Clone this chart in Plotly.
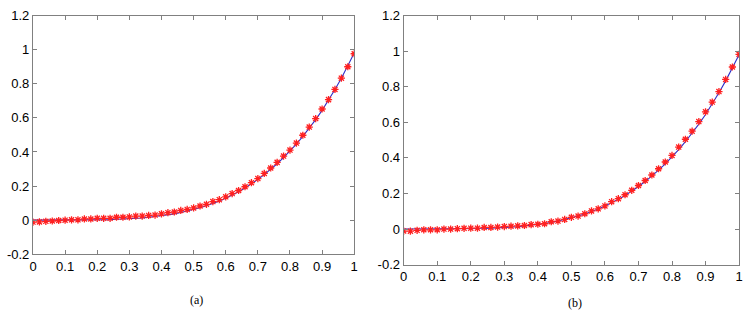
import plotly.graph_objects as go

x_vals = [round(i * 0.02, 2) for i in range(51)]

line_vals = [0.000, 0.000, 0.000, 0.000, 0.000, 0.000, 0.000, 0.000, 0.001, 0.001,
             0.002, 0.002, 0.003, 0.005, 0.006, 0.008, 0.010, 0.013, 0.017, 0.021,
             0.026, 0.031, 0.037, 0.045, 0.053, 0.062, 0.073, 0.085, 0.098, 0.113,
             0.129, 0.147, 0.167, 0.189, 0.213, 0.239, 0.267, 0.298, 0.331, 0.367,
             0.405, 0.446, 0.491, 0.538, 0.590, 0.644, 0.703, 0.766, 0.833, 0.904,
             0.980]

markers_a = [-0.011, -0.010, -0.007, -0.005, -0.002, 0.000, 0.002, 0.002, 0.007, 0.007,
             0.011, 0.011, 0.011, 0.017, 0.017, 0.019, 0.024, 0.024, 0.028, 0.030,
             0.037, 0.044, 0.048, 0.057, 0.063, 0.072, 0.083, 0.093, 0.109, 0.120,
             0.137, 0.156, 0.174, 0.196, 0.220, 0.244, 0.274, 0.306, 0.339, 0.376,
             0.411, 0.452, 0.498, 0.546, 0.596, 0.652, 0.707, 0.767, 0.833, 0.900,
             0.976]

markers_b = [-0.011, -0.012, -0.007, -0.004, -0.004, -0.004, 0.000, 0.000, 0.002, 0.004,
             0.005, 0.005, 0.009, 0.009, 0.011, 0.014, 0.016, 0.018, 0.020, 0.025,
             0.027, 0.030, 0.041, 0.045, 0.054, 0.066, 0.073, 0.086, 0.102, 0.114,
             0.130, 0.154, 0.171, 0.193, 0.218, 0.245, 0.273, 0.304, 0.339, 0.377,
             0.414, 0.461, 0.505, 0.550, 0.604, 0.659, 0.714, 0.773, 0.841, 0.911,
             0.982]

x_ticks = [0, 0.1, 0.2, 0.3, 0.4, 0.5, 0.6, 0.7, 0.8, 0.9, 1]
x_ticktext = ["0", "0.1", "0.2", "0.3", "0.4", "0.5", "0.6", "0.7", "0.8", "0.9", "1"]
y_ticks = [-0.2, 0, 0.2, 0.4, 0.6, 0.8, 1, 1.2]
y_ticktext = ["-0.2", "0", "0.2", "0.4", "0.6", "0.8", "1", "1.2"]
captions = ["(a)", "(b)"]

W, H = 750, 318
fig = go.Figure()

for i, (mk, xa, ya) in enumerate([(markers_a, "x", "y"), (markers_b, "x2", "y2")]):
    fig.add_trace(go.Scatter(x=x_vals, y=line_vals, mode="lines", xaxis=xa, yaxis=ya,
                             line=dict(color="#3030c8", width=1.1), showlegend=False))
    fig.add_trace(go.Scatter(x=x_vals, y=mk, mode="markers", xaxis=xa, yaxis=ya,
                             marker=dict(symbol="asterisk-open", size=6, color="#ff2020",
                                         line=dict(color="#ff2020", width=1.3)),
                             showlegend=False))

axis_common = dict(showline=True, mirror="ticks", linecolor="#808080", linewidth=1.2,
                   ticks="inside", ticklen=4, tickcolor="#808080", showgrid=False,
                   zeroline=False, tickfont=dict(family="Liberation Sans, Arial", size=13, color="#000"))

fig.update_layout(
    width=W, height=H, margin=dict(l=0, r=0, t=0, b=0),
    paper_bgcolor="white", plot_bgcolor="white",
    xaxis=dict(domain=[29.3 / W, 354 / W], range=[0, 1], tickvals=x_ticks, ticktext=x_ticktext,
               anchor="y", **axis_common),
    yaxis=dict(domain=[1 - 259.5 / H, 1 - 9 / H], range=[-0.2, 1.2], tickvals=y_ticks,
               ticktext=y_ticktext, anchor="x", **axis_common),
    xaxis2=dict(domain=[404 / W, 743 / W], range=[0, 1], tickvals=x_ticks, ticktext=x_ticktext,
                anchor="y2", **axis_common),
    yaxis2=dict(domain=[1 - 270.4 / H, 1 - 9 / H], range=[-0.2, 1.2], tickvals=y_ticks,
                ticktext=y_ticktext, anchor="x2", **axis_common),
)

for txt, px, py in [(captions[0], 195, 307), (captions[1], 577, 311)]:
    fig.add_annotation(text=txt, x=px / W, y=1 - py / H, xref="paper", yref="paper",
                       showarrow=False, xanchor="center", yanchor="middle",
                       font=dict(family="Liberation Serif, Times New Roman", size=12, color="#000"))

fig.write_html("out.html", config={"responsive": False, "displayModeBar": False},
               post_script="document.body.style.margin='0';document.body.style.overflow='hidden';")
